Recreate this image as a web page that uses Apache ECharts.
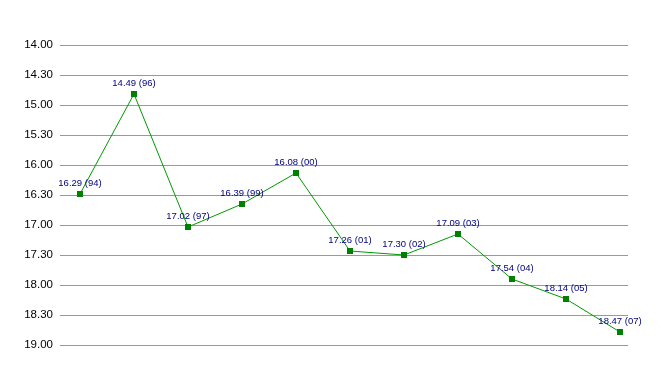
<!DOCTYPE html>
<html><head><meta charset="utf-8">
<script src="https://cdn.jsdelivr.net/npm/echarts@6/dist/echarts.min.js"></script>
<style>html,body{margin:0;padding:0;background:#fff}#c{width:668px;height:375px}</style>
</head><body><div id="c"></div>
<script>
// times as mm.ss strings
const times = ["16.29","14.49","17.02","16.39","16.08","17.26","17.30","17.09","17.54","18.14","18.47"];
const years = ["94","96","97","99","00","01","02","03","04","05","07"];
const yMin = 14, yMax = 19, yStep = 0.5;

function toMin(s){ const p = s.split('.'); return +p[0] + (+p[1])/60; }
function fmt(v){ const m = Math.floor(v + 1e-9); const s = Math.round((v - m)*60); return m + '.' + (s<10?'0':'') + s; }

const data = times.map((t,i)=>({value:[i, toMin(t)], label:{formatter: t + ' (' + years[i] + ')'}}));

const chart = echarts.init(document.getElementById('c'), null, {renderer:'canvas'});
chart.setOption({
  animation:false,
  grid:{left:60,right:40,top:45,bottom:30},
  xAxis:{type:'value', min:-0.37, max:10.148, show:false},
  yAxis:{type:'value', inverse:true, min:yMin, max:yMax, interval:yStep,
    axisLine:{show:false}, axisTick:{show:false},
    axisLabel:{formatter:fmt, color:'#000', fontFamily:'Liberation Sans, Arial, sans-serif', fontSize:11.5, margin:7},
    splitLine:{lineStyle:{color:'#999', width:1}}
  },
  series:[{
    type:'line', data:data,
    symbol:'rect', symbolSize:6,
    itemStyle:{color:'#008000'},
    lineStyle:{color:'#009900', width:1},
    label:{show:true, position:'top', distance:3, color:'#000080',
      fontFamily:'Liberation Sans, Arial, sans-serif', fontSize:9.5}
  }]
});
</script></body></html>
